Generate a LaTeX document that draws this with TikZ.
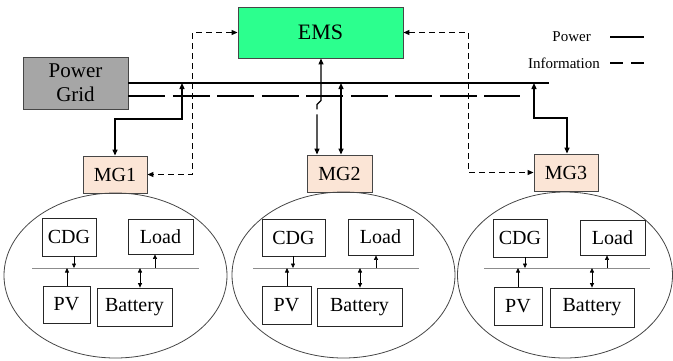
\documentclass[tikz,border=0pt]{standalone}
\usepackage{fontspec}
\setmainfont{Liberation Serif}
\newfontfamily\tnr{Liberation Serif}
\usetikzlibrary{arrows.meta,calc}
\definecolor{emsgreen}{RGB}{44,255,142}
\definecolor{gridgray}{RGB}{166,166,166}
\definecolor{mgpeach}{RGB}{251,229,214}
\definecolor{edgegray}{RGB}{70,70,70}
\definecolor{busgray}{RGB}{140,140,140}
\begin{document}
\begin{tikzpicture}[x=1pt,y=-1pt,
  blk/.style={draw=edgegray, line width=0.9pt, inner sep=0pt, font=\tnr\fontsize{20}{24}\selectfont},
  dev/.style={draw=black!85, line width=0.8pt, inner sep=0pt, font=\tnr\fontsize{20}{24}\selectfont},
  bigtip/.tip={Triangle[length=6pt,width=5pt]},
  smalltip/.tip={Triangle[length=4.5pt,width=4pt]},
  pwr/.style={line width=1.3pt, bigtip-bigtip},
  inf/.style={line width=1.1pt, dash pattern=on 6pt off 4pt, bigtip-bigtip},
  linf/.style={line width=1.2pt, dash pattern=on 37pt off 7.5pt},
  bus/.style={draw=busgray, line width=0.7pt},
  da/.style={line width=0.6pt, -smalltip},
  dab/.style={line width=0.8pt, smalltip-smalltip},
  mgell/.style={draw=edgegray, line width=0.8pt},
  legtxt/.style={font=\tnr\fontsize{15}{18}\selectfont, inner sep=0pt}
]
\useasboundingbox (0,0) rectangle (673,360);

% main blocks
\node[blk, fill=emsgreen, minimum width=165pt, minimum height=51pt, font=\tnr\fontsize{22}{26}\selectfont] (EMS) at (320.5,32.5) {EMS};
\node[blk, fill=gridgray, minimum width=105pt, minimum height=52pt, align=center, font=\tnr\fontsize{21}{25}\selectfont] (GRID) at (75.5,83) {Power\\[-1pt]Grid};
\node[blk, fill=mgpeach, minimum width=64pt, minimum height=37pt] (MG1) at (115,174.5) {MG1};
\node[blk, fill=mgpeach, minimum width=65pt, minimum height=37pt] (MG2) at (339.5,173.5) {MG2};
\node[blk, fill=mgpeach, minimum width=64pt, minimum height=37pt] (MG3) at (566,172.5) {MG3};

% buses
\coordinate (pend) at (549,83);
\coordinate (iend) at (520,96);
\draw[line width=1.3pt] (GRID.east) -- (pend);
\draw[linf] (GRID.east |- iend) -- (iend);

% power connectors
\coordinate (t1) at (182,83);
\coordinate (t3) at (534,83);
\draw[pwr] (t1) -- ++(0,36) -| (MG1.north);
\draw[pwr] ([xshift=1.5pt]MG2.north |- pend) -- ([xshift=1.5pt]MG2.north);
\draw[pwr] (t3) -- ++(0,35) -| ([xshift=1pt]MG3.north);

% information connectors
\draw[inf] (EMS.west) -- ++(-45,0) |- (MG1.east);
\draw[inf] (EMS.east) -- ++(65,0) |- (MG3.west);
\draw[line width=1.2pt, dash pattern=on 47pt off 5pt on 60pt off 5pt, bigtip-bigtip] ([xshift=0.5pt]EMS.south) -- ++(0,42) -- ++(-4,4) -- ([xshift=-22.5pt]MG2.north);

% legend
\node[legtxt, anchor=east] (lpow) at (591,37) {Power};
\node[legtxt, anchor=east] (linfo) at (600,63) {Information};
\draw[line width=1.2pt] ([xshift=19pt]lpow.east) -- ++(34,0);
\draw[line width=1.2pt, dash pattern=on 13pt off 8pt] ([xshift=10pt]linfo.east) -- ++(34,0);

% microgrid 1
\draw[mgell] (115.5,275.5) ellipse [x radius=111.5, y radius=82.5];
\node[dev, minimum width=54pt, minimum height=38pt] (cdg1) at (69,237) {CDG};
\node[dev, minimum width=65pt, minimum height=35pt] (load1) at (160.5,236.5) {Load};
\node[dev, minimum width=47pt, minimum height=37pt] (pv1) at (66.5,304.5) {PV};
\node[dev, minimum width=75pt, minimum height=38pt] (bat1) at (134.5,307) {Battery};
\coordinate (b1a) at (32,268); \coordinate (b1b) at (199,268);
\draw[bus] (b1a) -- (b1b);
\draw[da] ([xshift=5pt]cdg1.south) -- ([xshift=5pt]cdg1.south |- b1a);
\draw[da] ([xshift=0.5pt]pv1.north) -- ([xshift=0.5pt]pv1.north |- b1a);
\draw[dab] ([xshift=5.5pt]bat1.north |- b1a) -- ([xshift=5.5pt]bat1.north);
\draw[da] ([xshift=-5.5pt]load1.south |- b1a) -- ([xshift=-5.5pt]load1.south);

% microgrid 2
\draw[mgell] (343.5,275) ellipse [x radius=111.5, y radius=83];
\node[dev, minimum width=63pt, minimum height=37pt] (cdg2) at (293.5,237.5) {CDG};
\node[dev, minimum width=65pt, minimum height=36pt] (load2) at (380.5,237) {Load};
\node[dev, minimum width=49pt, minimum height=38pt] (pv2) at (286.5,305) {PV};
\node[dev, minimum width=85pt, minimum height=38pt] (bat2) at (359.5,307) {Battery};
\coordinate (b2a) at (253,268); \coordinate (b2b) at (419,268);
\draw[bus] (b2a) -- (b2b);
\draw[da] ([xshift=-0.5pt]cdg2.south) -- ([xshift=-0.5pt]cdg2.south |- b2a);
\draw[da] ([xshift=0.5pt]pv2.north) -- ([xshift=0.5pt]pv2.north |- b2a);
\draw[dab] ([xshift=0.5pt]bat2.north |- b2a) -- ([xshift=0.5pt]bat2.north);
\draw[da] ([xshift=-4.5pt]load2.south |- b2a) -- ([xshift=-4.5pt]load2.south);

% microgrid 3
\draw[mgell] (565,275) ellipse [x radius=107.5, y radius=83];
\node[dev, minimum width=54pt, minimum height=38pt] (cdg3) at (520,238) {CDG};
\node[dev, minimum width=65pt, minimum height=35pt] (load3) at (612.5,237.5) {Load};
\node[dev, minimum width=48pt, minimum height=38pt] (pv3) at (518,306) {PV};
\node[dev, minimum width=84pt, minimum height=39pt] (bat3) at (592,307.5) {Battery};
\coordinate (b3a) at (484,268); \coordinate (b3b) at (650,268);
\draw[bus] (b3a) -- (b3b);
\draw[da] ([xshift=5pt]cdg3.south) -- ([xshift=5pt]cdg3.south |- b3a);
\draw[da] (pv3.north) -- (pv3.north |- b3a);
\draw[dab] (bat3.north |- b3a) -- (bat3.north);
\draw[da] ([xshift=-5.5pt]load3.south |- b3a) -- ([xshift=-5.5pt]load3.south);
\end{tikzpicture}
\end{document}
